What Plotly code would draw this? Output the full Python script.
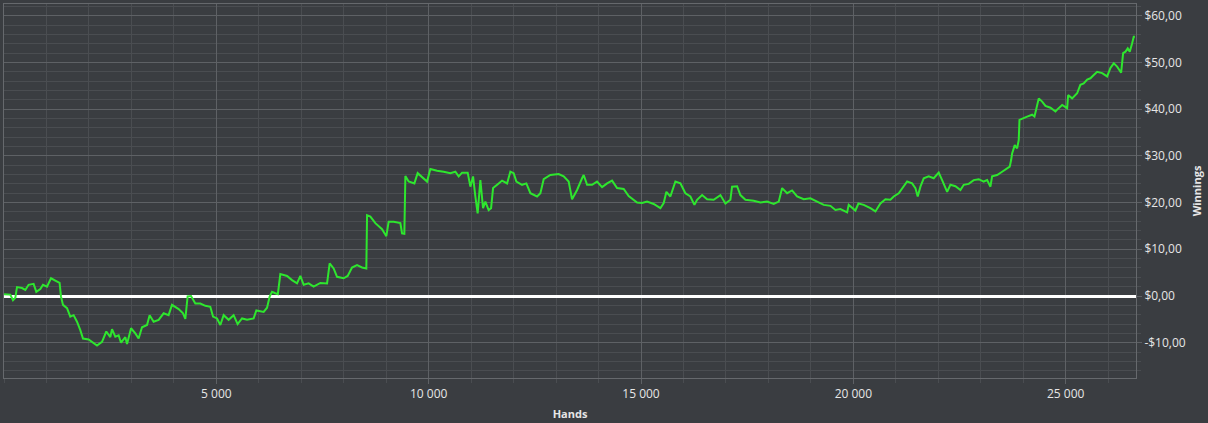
import plotly.graph_objects as go

hands = [0, 148, 212, 266, 306, 424, 502, 579, 697, 761, 855, 918, 1013, 1107, 1208, 1309,
         1342, 1389, 1484, 1561, 1639, 1719, 1797, 1860, 1992, 2110, 2190, 2308, 2409, 2503,
         2543, 2621, 2699, 2755, 2857, 2897, 2991, 3092, 3170, 3250, 3368, 3429, 3523, 3641,
         3759, 3876, 3956, 4112, 4215, 4270, 4324, 4404, 4505, 4623, 4741, 4858, 4922, 5016,
         5094, 5172, 5289, 5407, 5501, 5605, 5723, 5878, 5942, 6114, 6194, 6255, 6311, 6389,
         6448, 6507, 6665, 6782, 6900, 6978, 7056, 7173, 7291, 7449, 7607, 7668, 7762, 7842,
         7998, 8092, 8195, 8313, 8431, 8532, 8549, 8627, 8744, 8902, 9003, 9057, 9175, 9333,
         9373, 9427, 9451, 9528, 9663, 9740, 9844, 9962, 10039, 10197, 10353, 10510, 10628,
         10706, 10786, 10918, 10982, 11045, 11099, 11153, 11217, 11280, 11335, 11412, 11469,
         11516, 11648, 11728, 11846, 11923, 12001, 12065, 12199, 12300, 12395, 12552, 12630,
         12708, 12865, 13061, 13179, 13296, 13376, 13494, 13612, 13650, 13730, 13847, 13965,
         14083, 14201, 14318, 14436, 14592, 14709, 14907, 15025, 15143, 15298, 15456, 15534,
         15597, 15691, 15809, 15927, 16045, 16162, 16257, 16320, 16438, 16556, 16711, 16869,
         16987, 17104, 17144, 17262, 17340, 17458, 17653, 17811, 17969, 18124, 18242, 18322,
         18440, 18557, 18675, 18831, 18988, 19146, 19302, 19459, 19577, 19694, 19853, 19890,
         19970, 20048, 20119, 20244, 20401, 20519, 20637, 20755, 20872, 20950, 21068, 21186,
         21266, 21383, 21461, 21515, 21579, 21657, 21774, 21892, 22010, 22090, 22208, 22285,
         22403, 22521, 22599, 22716, 22834, 22952, 23069, 23150, 23227, 23267, 23385, 23503,
         23621, 23682, 23715, 23738, 23776, 23799, 23856, 23894, 23911, 23974, 24092, 24209,
         24264, 24311, 24365, 24445, 24523, 24641, 24758, 24798, 24916, 25034, 25057, 25151,
         25269, 25345, 25424, 25505, 25582, 25660, 25740, 25858, 25976, 26053, 26131, 26211,
         26305, 26352, 26407, 26461, 26508, 26564, 26602, 26630]

winnings = [0.4, 0.3, -0.9, -0.4, 1.9, 1.7, 1.3, 2.4, 2.6, 0.9, 1.5, 2.4, 2.0, 3.8, 3.3, 2.8,
            -0.1, -1.9, -2.6, -4.4, -4.1, -5.5, -7.3, -9.1, -9.3, -10.1, -10.6, -9.8, -7.6, -8.8,
            -7.1, -8.7, -8.4, -10.0, -8.8, -10.3, -6.9, -8.0, -9.1, -6.7, -6.2, -4.1, -5.5, -5.1,
            -3.7, -4.1, -1.9, -2.8, -3.7, -4.9, -0.1, 0.0, -1.6, -1.6, -2.1, -2.3, -4.4, -4.8,
            -6.2, -4.1, -5.1, -4.1, -6.0, -4.8, -5.1, -4.8, -3.1, -3.4, -2.5, -0.1, 0.9, 0.6,
            0.4, 4.7, 4.3, 3.4, 2.7, 4.3, 2.4, 2.7, 2.0, 2.8, 2.7, 7.0, 5.9, 4.1,
            3.8, 4.3, 6.1, 6.6, 6.1, 5.9, 17.3, 17.0, 15.6, 14.3, 12.8, 15.9, 15.9, 15.6,
            13.4, 13.3, 25.7, 24.5, 24.1, 26.3, 25.4, 24.5, 27.2, 26.8, 26.6, 26.3, 26.6,
            25.6, 26.4, 26.4, 23.4, 25.6, 21.3, 17.7, 24.8, 18.8, 20.2, 18.4, 18.8,
            23.1, 24.1, 24.7, 24.1, 26.6, 26.3, 24.5, 23.8, 24.1, 22.0, 21.3, 22.0,
            25.0, 25.9, 26.1, 25.6, 24.5, 20.7, 22.7, 25.2, 25.9, 23.8, 23.8, 24.5,
            23.3, 24.1, 24.7, 23.1, 22.9, 21.4, 20.0, 19.9, 20.2, 19.7, 18.8, 19.9,
            22.3, 21.3, 24.5, 24.1, 22.0, 21.3, 19.5, 20.6, 21.6, 20.7, 20.6, 21.6,
            19.8, 20.6, 23.4, 23.5, 21.6, 20.6, 20.4, 20.0, 20.2, 19.7, 20.2, 23.1,
            22.0, 22.6, 21.3, 20.7, 20.9, 20.2, 19.5, 19.3, 18.4, 18.6, 17.9, 19.5,
            18.8, 18.3, 19.8, 19.5, 18.8, 18.1, 19.8, 20.7, 20.6, 21.3, 22.0, 23.4,
            24.5, 24.1, 23.1, 21.3, 23.4, 25.2, 25.6, 25.2, 26.4, 24.8, 22.3, 23.8,
            23.5, 22.7, 23.8, 24.0, 24.8, 25.0, 24.5, 24.8, 23.4, 25.6, 25.9, 26.6,
            27.3, 27.7, 29.1, 30.5, 31.6, 32.3, 31.6, 33.4, 37.7, 38.0, 38.4, 38.8,
            38.4, 40.2, 42.3, 41.6, 40.7, 40.3, 39.5, 39.9, 40.9, 40.2, 43.0, 42.3,
            43.4, 45.2, 45.5, 46.3, 46.6, 47.3, 48.0, 47.7, 47.0, 48.8, 49.8, 49.1,
            47.8, 52.0, 52.3, 53.0, 52.3, 54.1, 55.5, 55.5]

x_tickvals = [5000, 10000, 15000, 20000, 25000]
x_ticktext = ["5 000", "10 000", "15 000", "20 000", "25 000"]
y_tickvals = [-10, 0, 10, 20, 30, 40, 50, 60]
y_ticktext = ["-$10,00", "$0,00", "$10,00", "$20,00", "$30,00", "$40,00", "$50,00", "$60,00"]

BG = "#3a3d41"
MAJOR = "#5e6165"
MINOR = "#4a4d51"
TXT = "#e6e6e6"

fig = go.Figure()
fig.add_trace(go.Scatter(x=hands, y=winnings, mode="lines",
                         line=dict(color="#2ee62e", width=2), hoverinfo="skip"))

fig.update_layout(
    width=1208, height=423,
    margin=dict(l=4, r=72, t=4, b=45),
    paper_bgcolor=BG, plot_bgcolor=BG,
    showlegend=False,
    font=dict(family="Open Sans", size=12, color=TXT),
)
fig.update_xaxes(
    range=[0, 26655],
    tickvals=x_tickvals, ticktext=x_ticktext,
    showgrid=True, gridcolor=MAJOR, gridwidth=1,
    ticks="outside", ticklen=5, tickcolor=MAJOR,
    minor=dict(dtick=1000, tick0=0, showgrid=True, gridcolor=MINOR, gridwidth=1,
               ticks="outside", ticklen=4, tickcolor=MINOR),
    showline=True, linecolor="#66696d", linewidth=1, mirror=True,
    zeroline=False,
    tickfont=dict(size=12, color=TXT),
    title=dict(text="<b>Hands</b>", font=dict(size=11, color=TXT), standoff=8),
)
fig.update_yaxes(
    side="right",
    range=[-17.55, 62.5],
    tickvals=y_tickvals, ticktext=y_ticktext,
    showgrid=True, gridcolor=MAJOR, gridwidth=1,
    ticks="outside", ticklen=5, tickcolor=MAJOR,
    minor=dict(dtick=2, tick0=0, showgrid=True, gridcolor=MINOR, gridwidth=1,
               ticks="outside", ticklen=4, tickcolor=MINOR),
    showline=True, linecolor="#66696d", linewidth=1, mirror=True,
    zeroline=True, zerolinecolor="#ffffff", zerolinewidth=3,
    tickfont=dict(size=12, color=TXT),
    title=dict(text="<b>Winnings</b>", font=dict(size=11, color=TXT), standoff=8),
)

fig.write_html("out.html", config={"displayModeBar": False},
               post_script="document.body.style.margin='0';document.body.style.padding='0';"
                           "document.body.style.background='" + BG + "';")
